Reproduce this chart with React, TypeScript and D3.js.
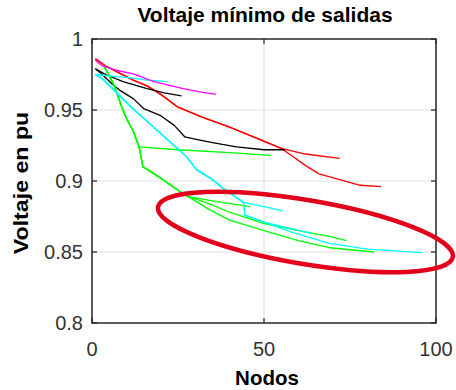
import React from 'react'
import * as d3 from 'd3'

type Pt = [number, number]

const title = 'Voltaje mínimo de salidas'
const xLabel = 'Nodos'
const yLabel = 'Voltaje en pu'
const xTicks = [0, 50, 100]
const yTicks = [0.8, 0.85, 0.9, 0.95, 1]
const yTickLabels = ['0.8', '0.85', '0.9', '0.95', '1']

// [nodo, voltaje]
const magenta: Pt[] = [[1, 0.985], [3, 0.981], [7, 0.978], [12, 0.9755], [18, 0.97], [26.5, 0.965], [31, 0.963], [36, 0.961]]
const cyanTop: Pt[] = [[1, 0.975], [5, 0.974], [10, 0.973], [16, 0.971], [22, 0.97]]

const blackShort: Pt[] = [[1, 0.979], [4, 0.975], [9, 0.97], [16, 0.965], [21, 0.962], [26, 0.96]]
const blackLong: Pt[] = [[1, 0.979], [3, 0.975], [6, 0.968], [8, 0.964], [12, 0.958], [15, 0.951], [20, 0.946], [24, 0.939], [27, 0.931], [31, 0.929], [35, 0.927], [42, 0.924], [50, 0.922], [56, 0.922]]

const redCommon: Pt[] = [[1, 0.986], [4, 0.981], [8, 0.976], [12, 0.971], [16, 0.967], [20, 0.961], [25, 0.952], [32, 0.945], [40, 0.938], [48, 0.93], [55, 0.923]]
const redA: Pt[] = [[62, 0.919], [72, 0.916]]
const redB: Pt[] = [[58, 0.918], [62, 0.911], [66, 0.905], [72, 0.901], [78, 0.897], [84, 0.896]]

const greenCommon: Pt[] = [[3.5, 0.981], [5, 0.974], [6.5, 0.967], [8.5, 0.953], [10, 0.944], [12, 0.935], [13.7, 0.924]]
const greenFlat: Pt[] = [[25, 0.922], [40, 0.92], [52, 0.918]]
const greenDown: Pt[] = [[14.8, 0.91], [20, 0.902], [26.5, 0.891], [28, 0.889]]
const greenShort: Pt[] = [[35, 0.886], [46, 0.882]]
const greenMid: Pt[] = [[34, 0.884], [40, 0.878], [50, 0.87], [60, 0.865], [69, 0.861], [74, 0.858]]
const greenLow: Pt[] = [[34, 0.88], [40, 0.8725], [50, 0.865], [60, 0.858], [69, 0.853], [82, 0.85]]

const cyanCommon: Pt[] = [[1, 0.975], [3, 0.972], [6, 0.965], [11, 0.953], [16, 0.942], [22, 0.929], [27.5, 0.917], [30.4, 0.908], [35, 0.901], [38, 0.895], [44, 0.885]]
const cyanShort: Pt[] = [[50, 0.882], [55.5, 0.879]]
const cyanDrop: Pt[] = [[44.5, 0.876], [50, 0.871]]
const cyanMid: Pt[] = [[57, 0.867], [64, 0.863]]
const cyanLong: Pt[] = [[58, 0.864], [69, 0.856], [80, 0.852], [96, 0.8495]]

const series = [
  { color: '#ff0000', pts: [...redCommon, ...redA] },
  { color: '#ff0000', pts: [...redCommon, ...redB] },
  { color: '#000000', pts: blackShort },
  { color: '#000000', pts: blackLong },
  { color: '#00ff00', pts: [...greenCommon, ...greenFlat] },
  { color: '#00ff00', pts: [...greenCommon, ...greenDown, ...greenShort] },
  { color: '#00ff00', pts: [...greenCommon, ...greenDown, ...greenMid] },
  { color: '#00ff00', pts: [...greenCommon, ...greenDown, ...greenLow] },
  { color: '#00ffff', pts: [...cyanCommon, ...cyanShort] },
  { color: '#00ffff', pts: [...cyanCommon, ...cyanDrop, ...cyanMid] },
  { color: '#00ffff', pts: [...cyanCommon, ...cyanDrop, ...cyanLong] },
  { color: '#00ffff', pts: cyanTop },
  { color: '#ff00ff', pts: magenta },
]

// hand-drawn highlight: ends of the long axis and half of the short axis (in pu)
const ringFrom: Pt = [19.2, 0.8817]
const ringTo: Pt = [104.9, 0.8465]
const ringHalf = 0.0225

const width = 456
const height = 390
const margin = { top: 39, right: 20, bottom: 67, left: 92 }
const font = '"Liberation Sans", Arial, sans-serif'
const axisColor = '#262626'

export default function App() {
  const x = d3.scaleLinear().domain([0, 100]).range([margin.left, width - margin.right])
  const y = d3.scaleLinear().domain([0.8, 1]).range([height - margin.bottom, margin.top])
  const line = d3.line<Pt>().x(d => x(d[0])).y(d => y(d[1]))

  const [x0, x1] = x.range()
  const [y0, y1] = y.range()

  const ax = x(ringFrom[0]), ay = y(ringFrom[1])
  const bx = x(ringTo[0]), by = y(ringTo[1])
  const rcx = (ax + bx) / 2, rcy = (ay + by) / 2
  const rrx = Math.hypot(bx - ax, by - ay) / 2
  const rry = y(0.9) - y(0.9 + ringHalf)
  const rang = (Math.atan2(by - ay, bx - ax) * 180) / Math.PI

  return (
    <svg width={width} height={height} style={{ position: 'absolute', left: 0, top: 0, background: '#fff' }} fontFamily={font}>
      <rect x={0} y={0} width={width} height={height} fill='#fff' />
      {/* grid */}
      {yTicks.slice(1, -1).map(t => (
        <line key={'gy' + t} x1={x0} x2={x1} y1={y(t)} y2={y(t)} stroke='#dedede' strokeWidth={1} />
      ))}
      {xTicks.slice(1, -1).map(t => (
        <line key={'gx' + t} x1={x(t)} x2={x(t)} y1={y0} y2={y1} stroke='#dedede' strokeWidth={1} />
      ))}
      {/* data */}
      <g fill='none' strokeWidth={1.3} strokeLinejoin='round'>
        {series.map((s, i) => (
          <path key={i} d={line(s.pts) || ''} stroke={s.color} />
        ))}
      </g>
      {/* box + ticks */}
      <rect x={x0} y={y1} width={x1 - x0} height={y0 - y1} fill='none' stroke={axisColor} strokeWidth={1.5} />
      {yTicks.map(t => (
        <g key={'ty' + t} stroke={axisColor} strokeWidth={1.2}>
          <line x1={x0} x2={x0 + 5} y1={y(t)} y2={y(t)} />
          <line x1={x1} x2={x1 - 5} y1={y(t)} y2={y(t)} />
        </g>
      ))}
      {xTicks.map(t => (
        <g key={'tx' + t} stroke={axisColor} strokeWidth={1.2}>
          <line x1={x(t)} x2={x(t)} y1={y0} y2={y0 - 5} />
          <line x1={x(t)} x2={x(t)} y1={y1} y2={y1 + 5} />
        </g>
      ))}
      {/* tick labels */}
      {yTicks.map((t, i) => (
        <text key={'ly' + t} x={x0 - 9} y={y(t)} dy='0.35em' textAnchor='end' fontSize={20} fill='#333'>
          {yTickLabels[i]}
        </text>
      ))}
      {xTicks.map(t => (
        <text key={'lx' + t} x={x(t)} y={y0 + 33} textAnchor='middle' fontSize={20} fill='#333'>
          {t}
        </text>
      ))}
      {/* labels */}
      <text x={(x0 + x1) / 2 + 1} y={22} textAnchor='middle' fontSize={21} fontWeight='bold' fill='#000'>
        {title}
      </text>
      <text x={(x0 + x1) / 2 + 3} y={385} textAnchor='middle' fontSize={20.5} fontWeight='bold' fill='#000'>
        {xLabel}
      </text>
      <text
        transform={`translate(28, ${(y0 + y1) / 2 + 2}) rotate(-90) scale(1.13, 1)`}
        textAnchor='middle'
        fontSize={20.5}
        fontWeight='bold'
        fill='#000'
      >
        {yLabel}
      </text>
      {/* annotation */}
      <ellipse
        cx={rcx}
        cy={rcy}
        rx={rrx}
        ry={rry}
        transform={`rotate(${rang}, ${rcx}, ${rcy})`}
        fill='none'
        stroke='#e2001a'
        strokeWidth={4.5}
      />
    </svg>
  )
}
